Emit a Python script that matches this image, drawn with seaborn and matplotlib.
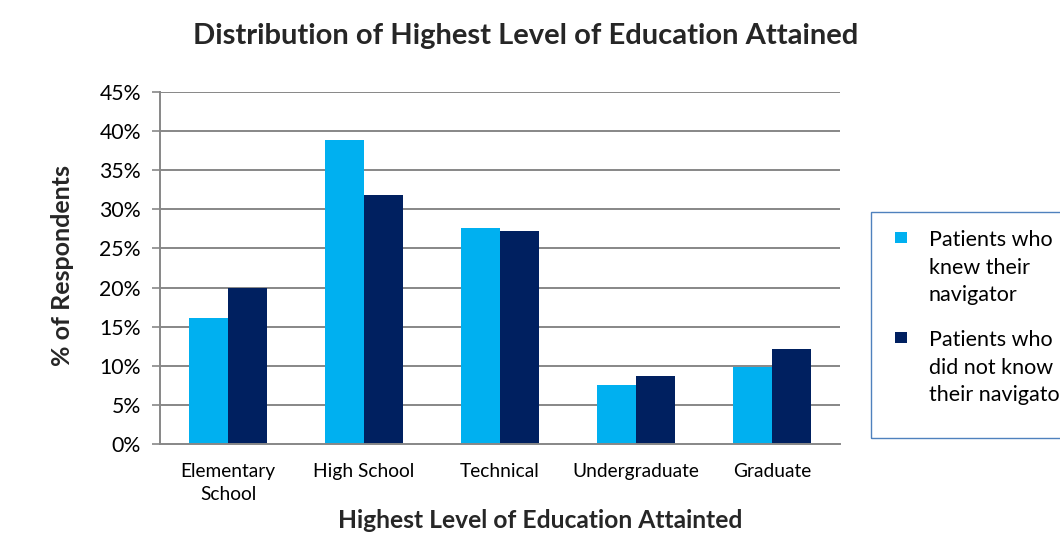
import matplotlib
matplotlib.use("Agg")
import matplotlib.pyplot as plt
import seaborn as sns
import pandas as pd
from matplotlib.patches import Rectangle

categories = ["Elementary\nSchool", "High School", "Technical", "Undergraduate", "Graduate"]
knew = [16.1, 38.8, 27.6, 7.5, 9.8]
did_not_know = [20.0, 31.8, 27.2, 8.7, 12.1]
series_names = ["Patients who\nknew their\nnavigator", "Patients who\ndid not know\ntheir navigator"]
colors = ["#00B0F0", "#002060"]
yticks = [0, 5, 10, 15, 20, 25, 30, 35, 40, 45]
ytick_labels = [f"{v}%" for v in yticks]

df = pd.DataFrame({
    "level": categories * 2,
    "pct": knew + did_not_know,
    "group": [series_names[0]] * len(categories) + [series_names[1]] * len(categories),
})

sns.set_theme(style="white")
FONT = ["Lato", "DejaVu Sans"]
plt.rcParams["font.family"] = FONT

W, H = 1060, 537
fig = plt.figure(figsize=(W / 100, H / 100), dpi=100)
ax = fig.add_axes([160 / W, 1 - 444 / H, 680 / W, (444 - 92) / H])

sns.barplot(data=df, x="level", y="pct", hue="group", palette=colors,
            width=0.57, gap=0, saturation=1, legend=False, ax=ax,
            edgecolor="none", linewidth=0)

grid_c = "#878787"
ax.set_ylim(0, 45)
ax.set_xlim(-0.5, len(categories) - 0.5)
ax.set_yticks(yticks)
ax.set_yticklabels(ytick_labels, fontsize=15.3, color="black")
for y in yticks[1:]:
    ax.axhline(y, color=grid_c, lw=1.4, zorder=0)
ax.set_axisbelow(True)

ax.set_xticks(range(len(categories)))
ax.set_xticklabels(categories, fontsize=13.8, color="black", linespacing=1.4)
ax.set_xticks([i - 0.5 for i in range(len(categories) + 1)], minor=True)
ax.tick_params(axis="x", which="major", length=0, pad=14)
ax.tick_params(axis="x", which="minor", length=5, width=1.2, color=grid_c, direction="out")
ax.tick_params(axis="y", which="major", length=5.8, width=1.2, color=grid_c, direction="out", pad=8, left=True)

for s in ["top", "right"]:
    ax.spines[s].set_visible(False)
for s in ["left", "bottom"]:
    ax.spines[s].set_color(grid_c)
    ax.spines[s].set_linewidth(1.4)

ax.set_xlabel("")
ax.set_ylabel("")
fig.text(526 / W, 1 - 36 / H, "Distribution of Highest Level of Education Attained",
         ha="center", va="center", fontsize=21, fontweight="bold")
fig.text(63 / W, 1 - 266 / H, "% of Respondents", rotation=90,
         ha="center", va="center", fontsize=18, fontweight="bold")
fig.text(540 / W, 1 - 521 / H, "Highest Level of Education Attainted",
         ha="center", va="center", fontsize=17.7, fontweight="bold")

# legend box
fig.patches.append(Rectangle((871 / W, 1 - 438 / H), 300 / W, (438 - 212) / H,
                             transform=fig.transFigure, fill=False,
                             edgecolor="#4F81BD", lw=1.0))
item_tops = [232, 332]
for i, (name, c) in enumerate(zip(series_names, colors)):
    t = item_tops[i]
    fig.patches.append(Rectangle((895 / W, 1 - (t + 11) / H), 12 / W, 11 / H,
                                 transform=fig.transFigure, facecolor=c, edgecolor="none"))
    for j, line in enumerate(name.split("\n")):
        fig.text(929 / W, 1 - (t + 14 + 27.5 * j) / H, line, ha="left", va="baseline",
                 fontsize=15.5, color="black")

fig.savefig("out.png", dpi=100)
